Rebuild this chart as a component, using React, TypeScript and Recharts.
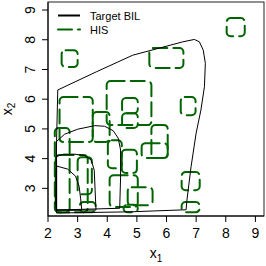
import { ComposedChart, Line, XAxis, YAxis, ReferenceArea } from "recharts";

type Pt = { x: number; y: number };

const xTicks = [2, 3, 4, 5, 6, 7, 8, 9];
const yTicks = [3, 4, 5, 6, 7, 8, 9];

// black "Target BIL" contours, outer to inner
const bilOuter: Pt[] = [
  { x: 2.29, y: 2.17 }, { x: 2.26, y: 2.43 }, { x: 2.29, y: 4.62 }, { x: 2.33, y: 6.31 },
  { x: 3.63, y: 6.92 }, { x: 4.86, y: 7.48 }, { x: 6.55, y: 7.93 }, { x: 6.94, y: 8.01 },
  { x: 7.11, y: 7.93 }, { x: 7.24, y: 7.65 }, { x: 7.31, y: 7.21 }, { x: 7.28, y: 6.42 },
  { x: 7.16, y: 5.63 }, { x: 7.0, y: 4.86 }, { x: 6.83, y: 3.74 }, { x: 6.69, y: 2.61 },
  { x: 6.66, y: 2.28 }, { x: 4.76, y: 2.21 }, { x: 2.29, y: 2.17 },
];
const bilMid: Pt[] = [
  { x: 2.28, y: 2.27 }, { x: 2.28, y: 4.57 }, { x: 2.56, y: 4.82 }, { x: 3.0, y: 4.99 },
  { x: 3.58, y: 5.11 }, { x: 3.91, y: 5.09 }, { x: 4.2, y: 4.94 }, { x: 4.37, y: 4.69 },
  { x: 4.45, y: 4.29 }, { x: 4.45, y: 3.38 }, { x: 4.42, y: 2.33 }, { x: 2.28, y: 2.27 },
];
const bilInner: Pt[] = [
  { x: 2.29, y: 2.27 }, { x: 2.29, y: 4.08 }, { x: 2.53, y: 4.15 }, { x: 2.9, y: 4.15 },
  { x: 3.24, y: 4.1 }, { x: 3.46, y: 3.95 }, { x: 3.56, y: 3.61 }, { x: 3.59, y: 2.94 },
  { x: 3.62, y: 2.27 }, { x: 2.29, y: 2.27 },
];
const bilCore: Pt[] = [
  { x: 2.29, y: 2.27 }, { x: 2.29, y: 3.75 }, { x: 2.66, y: 3.65 }, { x: 2.93, y: 3.41 },
  { x: 3.05, y: 3.07 }, { x: 3.1, y: 2.67 }, { x: 3.14, y: 2.27 }, { x: 2.29, y: 2.27 },
];

// green "HIS" boxes: [x1, x2, y1, y2]
const hisBoxes: [number, number, number, number][] = [
  [2.46, 3.0, 7.08, 7.65],
  [5.42, 6.57, 7.05, 7.72],
  [8.03, 8.64, 8.12, 8.73],
  [6.48, 6.98, 5.46, 6.07],
  [3.98, 5.49, 5.13, 6.61],
  [5.49, 6.04, 4.02, 5.13],
  [5.16, 6.04, 4.02, 4.52],
  [4.5, 5.03, 5.53, 6.04],
  [4.5, 5.03, 5.03, 5.53],
  [2.39, 3.51, 4.56, 6.07],
  [3.51, 4.08, 4.56, 5.57],
  [4.02, 4.49, 3.68, 4.62],
  [4.08, 5.03, 2.37, 3.44],
  [4.49, 5.0, 3.52, 4.3],
  [4.69, 5.53, 2.43, 3.04],
  [6.51, 7.12, 2.94, 3.55],
  [6.51, 7.12, 2.2, 2.54],
  [2.26, 3.34, 2.2, 4.12],
  [3.0, 3.48, 2.8, 4.05],
  [2.23, 2.73, 2.2, 5.03],
  [3.07, 3.61, 2.2, 2.54],
  [4.55, 5.03, 2.2, 2.45],
];

const FONT = "'Liberation Sans', Arial, Helvetica, sans-serif";
const GREEN = "#006400";

const roundedBox = (p: any) => (
  <rect
    x={p.x}
    y={p.y}
    width={p.width}
    height={p.height}
    rx={4}
    ry={4}
    fill="none"
    stroke={GREEN}
    strokeWidth={2}
    strokeDasharray="14 6"
    strokeLinecap="round"
  />
);

const plainBox = (p: any) => (
  <rect x={p.x} y={p.y} width={p.width} height={p.height} fill="none" stroke="#222" strokeWidth={1} />
);

const YTick = ({ x, y, payload }: any) => (
  <text
    x={x}
    y={y}
    transform={`rotate(-90 ${x} ${y})`}
    textAnchor="middle"
    fontSize={14}
    fontFamily={FONT}
    fill="#000"
  >
    {payload.value}
  </text>
);

const XTitle = ({ viewBox }: any) => (
  <text x={viewBox.x + viewBox.width / 2} y={viewBox.y + 42} textAnchor="middle" fontSize={14} fontFamily={FONT}>
    x<tspan fontSize={10} dy={4}>1</tspan>
  </text>
);

const YTitle = ({ viewBox }: any) => {
  const cy = viewBox.y + viewBox.height / 2;
  return (
    <text x={12} y={cy} transform={`rotate(-90 12 ${cy})`} textAnchor="middle" fontSize={14} fontFamily={FONT}>
      x<tspan fontSize={10} dy={3}>2</tspan>
    </text>
  );
};

export default function App() {
  return (
    <div style={{ position: "absolute", left: 0, top: 0, width: 266, height: 266, background: "#fff" }}>
      <ComposedChart width={266} height={266} margin={{ top: 2, right: 2, bottom: 0, left: 0 }}>
        <XAxis
          type="number"
          dataKey="x"
          domain={[2, 9.29]}
          allowDataOverflow
          ticks={xTicks}
          interval={0}
          height={50}
          tickSize={6}
          tickMargin={6}
          stroke="#000"
          tick={{ fontSize: 14, fill: "#000", fontFamily: FONT }}
          label={{ content: XTitle }}
        />
        <YAxis
          type="number"
          dataKey="y"
          domain={[2.07, 9.27]}
          allowDataOverflow
          ticks={yTicks}
          interval={0}
          width={48}
          tickSize={6}
          tickMargin={7}
          stroke="#000"
          tick={<YTick />}
          label={{ content: YTitle }}
        />
        {hisBoxes.map(([x1, x2, y1, y2], i) => (
          <ReferenceArea key={i} x1={x1} x2={x2} y1={y1} y2={y2} ifOverflow="visible" shape={roundedBox} />
        ))}
        {[bilOuter, bilMid, bilInner, bilCore].map((d, i) => (
          <Line
            key={i}
            data={d}
            dataKey="y"
            type="linear"
            stroke="#000"
            strokeWidth={1}
            dot={false}
            isAnimationActive={false}
          />
        ))}
        <ReferenceArea x1={2} x2={9.29} y1={2.07} y2={9.27} ifOverflow="visible" shape={plainBox} />
      </ComposedChart>
      <svg width={266} height={266} style={{ position: "absolute", left: 0, top: 0, pointerEvents: "none" }}>
        <line x1={58} y1={15.5} x2={80} y2={15.5} stroke="#000" strokeWidth={2} />
        <text x={90} y={20} fontSize={11} fontFamily={FONT}>Target BIL</text>
        <line x1={58} y1={29.5} x2={80} y2={29.5} stroke={GREEN} strokeWidth={2} strokeDasharray="14 6" strokeLinecap="round" />
        <text x={90} y={33.5} fontSize={11} fontFamily={FONT}>HIS</text>
      </svg>
    </div>
  );
}
